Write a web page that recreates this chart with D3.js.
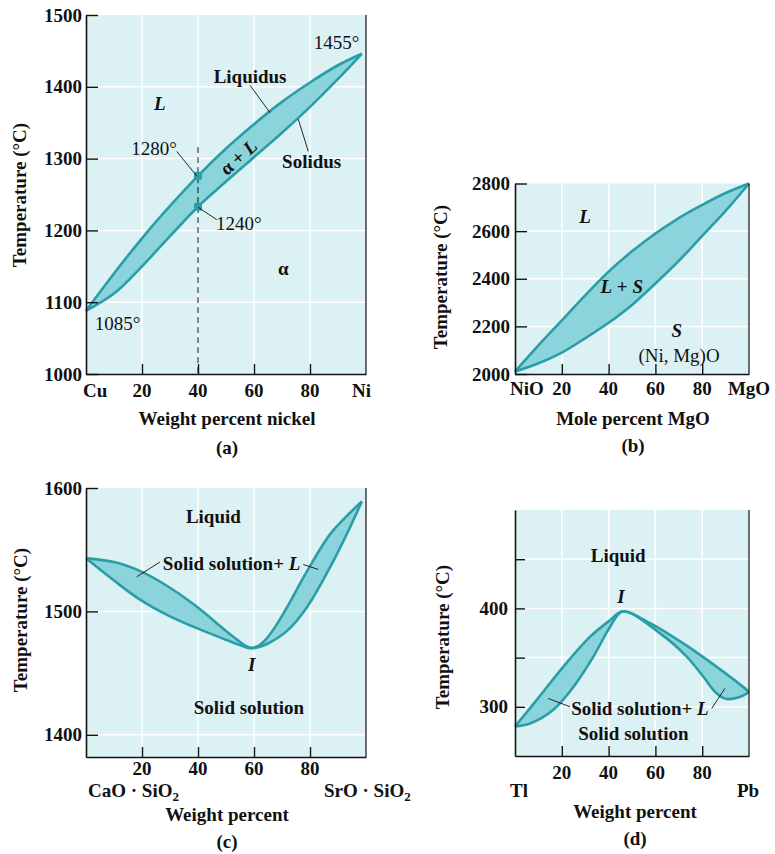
<!DOCTYPE html>
<html><head><meta charset="utf-8">
<script src="https://d3js.org/d3.v7.min.js"></script>
<style>body{margin:0;background:#fff}</style>
</head><body><svg id="c" width="775" height="854" xmlns="http://www.w3.org/2000/svg"></svg>
<script>
// ---------- DATA ----------
// (a) Cu–Ni
const cuNiComp      = [0, 10, 20, 30, 40, 50, 60, 70, 80, 90, 98.5];
const cuNiLiquidus  = [1088, 1140, 1189, 1234, 1276, 1314, 1348, 1379, 1406, 1430, 1446];
const cuNiSolidus   = [1088, 1112, 1150, 1192, 1233, 1268, 1302, 1336, 1372, 1411, 1446];
const cuNiYTicks    = [1000, 1100, 1200, 1300, 1400, 1500];
const cuNiXTicks    = [0, 20, 40, 60, 80, 100];
const cuNiXLabels   = ["Cu", "20", "40", "60", "80", "Ni"];
// (b) NiO–MgO
const mgoComp       = [0, 10, 20, 30, 40, 50, 60, 70, 80, 90, 100];
const mgoLiquidus   = [2010, 2120, 2225, 2330, 2430, 2515, 2590, 2655, 2710, 2760, 2800];
const mgoSolidus    = [2010, 2045, 2090, 2150, 2215, 2290, 2380, 2475, 2580, 2685, 2800];
const mgoYTicks     = [2000, 2200, 2400, 2600, 2800];
const mgoXTicks     = [0, 20, 40, 60, 80, 100];
const mgoXLabels    = ["NiO", "20", "40", "60", "80", "MgO"];
// (c) CaO·SiO2 – SrO·SiO2
const srUpperComp   = [0, 10, 19, 28, 39.5, 49, 54, 57, 59, 61.5, 64.5, 68, 71.7, 78.8, 87, 93, 98.5];
const srUpperTemp   = [1543, 1540, 1533, 1522, 1504, 1486, 1477, 1472, 1470.5, 1472, 1478, 1489, 1503, 1532, 1562, 1577, 1589];
const srLowerComp   = [0, 10, 19, 30, 40, 50, 54, 57, 59, 61.5, 65, 71.7, 78.8, 86.5, 93, 98.5];
const srLowerTemp   = [1543, 1525, 1510, 1496, 1486, 1477, 1473.5, 1471, 1470, 1471, 1474, 1484, 1503, 1533, 1562, 1589];
const srYTicks      = [1400, 1500, 1600];
const srXTicks      = [20, 40, 60, 80];
// (d) Tl–Pb
const tlUpperComp   = [0, 9.3, 20.6, 32, 40.6, 46, 57.7, 71.9, 86.2, 97.6, 100];
const tlUpperTemp   = [280, 307, 340.6, 371, 388, 397, 385, 364.4, 340.6, 320, 315];
const tlLowerComp   = [0, 6.4, 16.4, 24.9, 33.5, 40.6, 46, 62, 73.4, 80.5, 86.2, 90.5, 96, 100];
const tlLowerTemp   = [280, 283, 297, 320, 351, 381, 397, 374.6, 351, 330.5, 313.6, 308, 310, 315];
const tlYTicks      = [300, 350, 400, 450];
const tlYLabels     = {300: "300", 400: "400"};
const tlXTicks      = [20, 40, 60, 80];

// ---------- STYLE ----------
const FONT = '"Liberation Serif","Times New Roman",Times,serif';
const BG = "#dcf1f4", FILL = "#8cd4db", STROKE = "#2a9ea6", INK = "#111";
const svg = d3.select("#c");

function txt(g, x, y, parts, o = {}) {
  const t = g.append("text").attr("x", x).attr("y", y).attr("dy", "0.35em")
    .attr("text-anchor", o.anchor || "middle").attr("font-size", o.size || 19)
    .attr("font-weight", o.weight || "bold").attr("font-family", FONT).attr("fill", INK);
  if (o.rotate != null) t.attr("transform", `rotate(${o.rotate},${x},${y})`);
  if (typeof parts === "string") parts = [{t: parts}];
  parts.forEach(p => {
    const s = t.append("tspan").text(p.t);
    if (p.italic) s.attr("font-style", "italic");
    if (p.sub) s.attr("font-size", 13).attr("dy", 4);
  });
  return t;
}

function panel(cfg) {
  const x = d3.scaleLinear().domain([0, 100]).range(cfg.xr);
  const y = d3.scaleLinear().domain(cfg.yd).range(cfg.yr);
  const g = svg.append("g");
  const [y0, y1] = cfg.yd;
  g.append("rect").attr("x", x(0)).attr("y", y(y1)).attr("width", x(100) - x(0))
    .attr("height", y(y0) - y(y1)).attr("fill", BG);
  // grid
  g.selectAll(null).data(cfg.xGrid).join("line")
    .attr("x1", d => x(d)).attr("x2", d => x(d)).attr("y1", y(y0)).attr("y2", y(y1))
    .attr("stroke", "#fff").attr("stroke-width", 1.5);
  g.selectAll(null).data(cfg.yGrid).join("line")
    .attr("x1", x(0)).attr("x2", x(100)).attr("y1", d => y(d)).attr("y2", d => y(d))
    .attr("stroke", "#fff").attr("stroke-width", 1.5);
  // lens
  const line = d3.line().x(d => x(d[0])).y(d => y(d[1])).curve(d3.curveCatmullRom.alpha(0.5));
  const up = cfg.upX.map((v, i) => [v, cfg.upY[i]]);
  const lo = cfg.loX.map((v, i) => [v, cfg.loY[i]]);
  const loRev = lo.slice().reverse();
  g.append("path").attr("d", line(up) + line(loRev).replace(/^M/, "L") + "Z")
    .attr("fill", FILL).attr("stroke", "none");
  [up, lo].forEach(pts => g.append("path").attr("d", line(pts)).attr("fill", "none")
    .attr("stroke", STROKE).attr("stroke-width", 2.6).attr("stroke-linejoin", "round"));
  if (cfg.extra) cfg.extra(g, x, y);
  // axes
  const ay = d3.axisLeft(y).tickValues(cfg.yTicks).tickSizeInner(-cfg.yTickLen).tickSizeOuter(0)
    .tickPadding(cfg.yPad).tickFormat(d => cfg.yLabels ? (cfg.yLabels[d] || "") : d);
  const gy = g.append("g").attr("transform", `translate(${x(0)},0)`).call(ay);
  const ax = d3.axisBottom(x).tickValues(cfg.xTicks).tickSizeInner(-10).tickSizeOuter(0).tickFormat("");
  const gx = g.append("g").attr("transform", `translate(0,${y(y0)})`).call(ax);
  [gy, gx].forEach(a => {
    a.selectAll("path").attr("stroke", INK).attr("stroke-width", 1.6);
    a.selectAll("line").attr("stroke", INK).attr("stroke-width", 1.4);
  });
  gy.selectAll("text").attr("font-family", FONT).attr("font-size", 19)
    .attr("font-weight", "bold").attr("fill", INK);
  // right border
  g.append("line").attr("x1", x(100)).attr("x2", x(100)).attr("y1", y(y0)).attr("y2", y(y1))
    .attr("stroke", INK).attr("stroke-width", 1.2);
  // x labels
  cfg.xLab.forEach(l => txt(g, x(l.v) + (l.dx || 0), y(y0) + l.dy, l.parts || l.t, {anchor: l.anchor}));
  // titles
  txt(g, cfg.title[0], cfg.title[1], cfg.title[2]);
  txt(g, cfg.tag[0], cfg.tag[1], cfg.tag[2]);
  txt(g, cfg.ytitle[0], cfg.ytitle[1], "Temperature (°C)", {rotate: -90});
  // annotations
  (cfg.notes || []).forEach(n => txt(g, x(n.x), y(n.y), n.parts, {weight: n.weight, rotate: n.rot}));
  (cfg.leaders || []).forEach(l => g.append("line")
    .attr("x1", x(l[0])).attr("y1", y(l[1])).attr("x2", x(l[2])).attr("y2", y(l[3]))
    .attr("stroke", INK).attr("stroke-width", 0.9));
}

// (a)
panel({
  xr: [86, 366], yd: [1000, 1500], yr: [374, 15],
  xGrid: [20, 40, 60, 80], yGrid: [1100, 1200, 1300, 1400],
  upX: cuNiComp, upY: cuNiLiquidus, loX: cuNiComp, loY: cuNiSolidus,
  yTicks: cuNiYTicks, yTickLen: 12, yPad: 4, xTicks: [20, 40, 60, 80],
  xLab: cuNiXTicks.map((v, i) => ({v, t: cuNiXLabels[i], dy: 16,
    anchor: i === 0 ? "start" : (i === 5 ? "end" : "middle"), dx: i === 0 ? -3 : (i === 5 ? 5 : 0)})),
  title: [227, 418, "Weight percent nickel"], tag: [227, 447, "(a)"], ytitle: [19, 195],
  extra: (g, x, y) => {
    g.append("line").attr("x1", x(40)).attr("x2", x(40)).attr("y1", y(1316)).attr("y2", y(1000))
      .attr("stroke", INK).attr("stroke-width", 1).attr("stroke-dasharray", "6,4");
    g.selectAll(null).data([[40, cuNiLiquidus[4]], [40, cuNiSolidus[4]]]).join("rect")
      .attr("x", d => x(d[0]) - 4).attr("y", d => y(d[1]) - 4).attr("width", 8).attr("height", 8)
      .attr("rx", 1.5).attr("fill", STROKE);
  },
  notes: [
    {x: 26.4, y: 1377, parts: [{t: "L", italic: true}]},
    {x: 58.6, y: 1414, parts: "Liquidus"},
    {x: 80.6, y: 1296, parts: "Solidus"},
    {x: 89.5, y: 1462, parts: "1455°", weight: "normal"},
    {x: 24.3, y: 1314, parts: "1280°", weight: "normal"},
    {x: 54.6, y: 1210, parts: "1240°", weight: "normal"},
    {x: 11.3, y: 1071, parts: "1085°", weight: "normal"},
    {x: 70.5, y: 1147, parts: "α"},
    {x: 54.4, y: 1302, parts: [{t: "α + "}, {t: "L", italic: true}], rot: -42}
  ],
  leaders: [[58.6, 1402, 65.7, 1364], [79.4, 1310, 75.8, 1355],
            [32.4, 1310, 39.5, 1276], [40.1, 1232, 46.7, 1215]]
});

// (b)
panel({
  xr: [515, 749], yd: [2000, 2800], yr: [374, 183.5],
  xGrid: [20, 40, 60, 80], yGrid: [2200, 2400, 2600],
  upX: mgoComp, upY: mgoLiquidus, loX: mgoComp, loY: mgoSolidus,
  yTicks: mgoYTicks, yTickLen: 12, yPad: 5, xTicks: [20, 40, 60, 80],
  xLab: mgoXTicks.map((v, i) => ({v, t: mgoXLabels[i], dy: 14,
    anchor: i === 0 ? "start" : "middle", dx: i === 0 ? -5 : 0})),
  title: [633, 418, "Mole percent MgO"], tag: [633, 445, "(b)"], ytitle: [440, 277],
  notes: [
    {x: 29.9, y: 2661, parts: [{t: "L", italic: true}]},
    {x: 45.6, y: 2367, parts: [{t: "L", italic: true}, {t: " + "}, {t: "S", italic: true}]},
    {x: 69.1, y: 2185, parts: [{t: "S", italic: true}]},
    {x: 70.1, y: 2080, parts: "(Ni, Mg)O", weight: "normal"}
  ]
});

// (c)
panel({
  xr: [86, 366], yd: [1382, 1600], yr: [757, 488],
  xGrid: [20, 40, 60, 80], yGrid: [1400, 1500],
  upX: srUpperComp, upY: srUpperTemp, loX: srLowerComp, loY: srLowerTemp,
  yTicks: srYTicks, yTickLen: 12, yPad: 4, xTicks: srXTicks,
  xLab: srXTicks.map(v => ({v, t: String(v), dy: 11})).concat([
    {v: 0, dx: 2, dy: 33, anchor: "start", parts: [{t: "CaO · SiO"}, {t: "2", sub: true}]},
    {v: 0, dx: 238, dy: 33, anchor: "start", parts: [{t: "SrO · SiO"}, {t: "2", sub: true}]}
  ]),
  title: [227, 814, "Weight percent"], tag: [227, 841, "(c)"], ytitle: [20, 620],
  notes: [
    {x: 45.5, y: 1577, parts: "Liquid"},
    {x: 52, y: 1539, parts: [{t: "Solid solution+ "}, {t: "L", italic: true}]},
    {x: 59.2, y: 1457, parts: [{t: "I", italic: true}]},
    {x: 58.2, y: 1422, parts: "Solid solution"}
  ],
  leaders: [[18.1, 1528, 26.4, 1540], [77.6, 1538, 83, 1534]]
});

// (d)
panel({
  xr: [515, 749], yd: [250, 500], yr: [756, 510],
  xGrid: [20, 40, 60, 80], yGrid: [300, 350, 400, 450],
  upX: tlUpperComp, upY: tlUpperTemp, loX: tlLowerComp, loY: tlLowerTemp,
  yTicks: tlYTicks, yLabels: tlYLabels, yTickLen: 10, yPad: 7, xTicks: tlXTicks,
  xLab: tlXTicks.map(v => ({v, t: String(v), dy: 16})).concat([
    {v: 0, dx: 4, dy: 34, t: "Tl"}, {v: 100, dx: -1, dy: 34, t: "Pb"}
  ]),
  title: [635, 811, "Weight percent"], tag: [635, 838, "(d)"], ytitle: [442, 637],
  notes: [
    {x: 44.1, y: 454, parts: "Liquid"},
    {x: 45.3, y: 412, parts: [{t: "I", italic: true}]},
    {x: 53.4, y: 298.4, parts: [{t: "Solid solution+ "}, {t: "L", italic: true}]},
    {x: 50.6, y: 273, parts: "Solid solution"}
  ],
  leaders: [[14.2, 308.5, 23.5, 300], [84.1, 298.4, 89.7, 318.7]]
});
</script></body></html>
